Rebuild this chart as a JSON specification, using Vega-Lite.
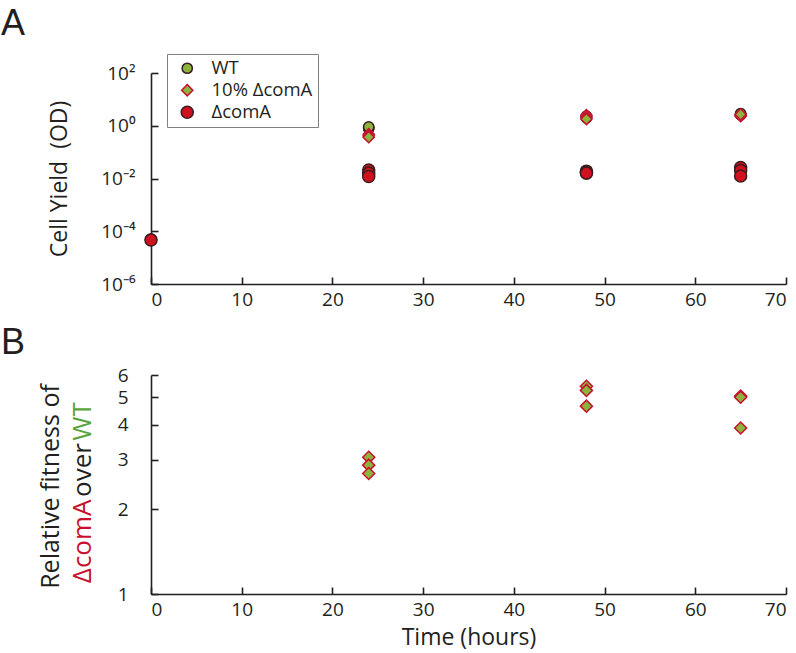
{
  "$schema": "https://vega.github.io/schema/vega-lite/v6.json",
  "padding": {"left": 0, "top": 6, "right": 2, "bottom": 0},
  "spacing": 16,
  "config": {
    "font": "Open Sans",
    "view": {"stroke": null},
    "axis": {
      "grid": false,
      "domainColor": "#231f20",
      "domainWidth": 1.6,
      "tickColor": "#231f20",
      "tickWidth": 1.6,
      "tickSize": -7,
      "labelColor": "#231f20",
      "labelFontSize": 19,
      "titleColor": "#231f20",
      "titleFontWeight": "normal"
    },
    "legend": {
      "title": null, "orient": "none", "legendX": 16, "legendY": -19,
      "strokeColor": "#808080", "fillColor": "white", "padding": 5,
      "labelFontSize": 18.5, "labelColor": "#231f20", "labelOffset": 15,
      "symbolOffset": 6, "symbolStrokeWidth": 1.5, "rowPadding": 3
    }
  },
  "resolve": {
    "scale": {"shape": "independent", "fill": "independent", "stroke": "independent", "size": "independent"},
    "legend": {"shape": "independent", "fill": "independent", "stroke": "independent", "size": "independent"}
  },
  "datasets": {
    "yield": [
      {"time": 0, "strain": "WT", "od": 0.00005},
      {"time": 0, "strain": "10% ΔcomA", "od": 0.000048},
      {"time": 0, "strain": "ΔcomA", "od": 0.000047},
      {"time": 24, "strain": "WT", "od": 0.85},
      {"time": 24, "strain": "WT", "od": 0.78},
      {"time": 24, "strain": "WT", "od": 0.9},
      {"time": 24, "strain": "10% ΔcomA", "od": 0.48},
      {"time": 24, "strain": "10% ΔcomA", "od": 0.42},
      {"time": 24, "strain": "10% ΔcomA", "od": 0.37},
      {"time": 24, "strain": "ΔcomA", "od": 0.021},
      {"time": 24, "strain": "ΔcomA", "od": 0.016},
      {"time": 24, "strain": "ΔcomA", "od": 0.012},
      {"time": 48, "strain": "WT", "od": 2.3},
      {"time": 48, "strain": "WT", "od": 2.1},
      {"time": 48, "strain": "WT", "od": 2.0},
      {"time": 48, "strain": "10% ΔcomA", "od": 2.5},
      {"time": 48, "strain": "10% ΔcomA", "od": 2.1},
      {"time": 48, "strain": "10% ΔcomA", "od": 1.8},
      {"time": 48, "strain": "ΔcomA", "od": 0.019},
      {"time": 48, "strain": "ΔcomA", "od": 0.017},
      {"time": 48, "strain": "ΔcomA", "od": 0.016},
      {"time": 65, "strain": "WT", "od": 2.8},
      {"time": 65, "strain": "WT", "od": 2.6},
      {"time": 65, "strain": "WT", "od": 2.9},
      {"time": 65, "strain": "10% ΔcomA", "od": 2.5},
      {"time": 65, "strain": "10% ΔcomA", "od": 2.3},
      {"time": 65, "strain": "10% ΔcomA", "od": 2.7},
      {"time": 65, "strain": "ΔcomA", "od": 0.026},
      {"time": 65, "strain": "ΔcomA", "od": 0.02},
      {"time": 65, "strain": "ΔcomA", "od": 0.0125}
    ],
    "fitness": [
      {"time": 24, "fitness": 3.06},
      {"time": 24, "fitness": 2.87},
      {"time": 24, "fitness": 2.68},
      {"time": 48, "fitness": 5.47},
      {"time": 48, "fitness": 5.29},
      {"time": 48, "fitness": 4.65},
      {"time": 65, "fitness": 5.05},
      {"time": 65, "fitness": 5.0},
      {"time": 65, "fitness": 3.89}
    ]
  },
  "vconcat": [
    {
      "width": 635,
      "height": 211,
      "layer": [
        {
          "data": {"name": "yield"},
          "mark": {"type": "point", "filled": true, "strokeWidth": 1.5, "opacity": 1},
          "encoding": {
            "x": {
              "field": "time", "type": "quantitative",
              "scale": {"domain": [0, 70], "nice": false},
              "axis": {"values": [0, 10, 20, 30, 40, 50, 60, 70], "title": null, "labelPadding": 13}
            },
            "y": {
              "field": "od", "type": "quantitative",
              "scale": {"type": "log", "domain": [0.000001, 100], "nice": false},
              "axis": {
                "values": [0.000001, 0.0001, 0.01, 1, 100],
                "labelExpr": "datum.value >= 50 ? '10²' : datum.value >= 0.5 ? '10⁰' : datum.value >= 0.005 ? '10⁻²' : datum.value >= 0.00005 ? '10⁻⁴' : '10⁻⁶'",
                "title": "Cell Yield\u00a0 (OD)",
                "titleFontSize": 23,
                "titlePadding": 29,
                "labelPadding": 23
              }
            },
            "shape": {
              "field": "strain", "type": "nominal",
              "scale": {"domain": ["WT", "10% ΔcomA", "ΔcomA"], "range": ["circle", "diamond", "circle"]}
            },
            "fill": {
              "field": "strain", "type": "nominal",
              "scale": {"domain": ["WT", "10% ΔcomA", "ΔcomA"], "range": ["#8cb43c", "#8cb43c", "#d0101e"]}
            },
            "stroke": {
              "field": "strain", "type": "nominal",
              "scale": {"domain": ["WT", "10% ΔcomA", "ΔcomA"], "range": ["#3b1d1d", "#c8102e", "#3b1d1d"]}
            },
            "size": {
              "field": "strain", "type": "nominal",
              "scale": {"domain": ["WT", "10% ΔcomA", "ΔcomA"], "range": [105, 145, 105]}
            }
          }
        },
        {
          "data": {"values": [{"t": "A"}]},
          "mark": {"type": "text", "align": "left", "baseline": "alphabetic", "font": "Liberation Sans", "fontSize": 36, "color": "#231f20"},
          "encoding": {
            "x": {"datum": -16.54, "type": "quantitative"},
            "y": {"datum": 2754, "type": "quantitative"},
            "text": {"field": "t"}
          }
        }
      ]
    },
    {
      "width": 635,
      "height": 219,
      "layer": [
        {
          "data": {"name": "fitness"},
          "mark": {"type": "point", "shape": "diamond", "filled": true, "fill": "#8cb43c", "stroke": "#c8102e", "strokeWidth": 1.5, "size": 145, "opacity": 1},
          "encoding": {
            "x": {
              "field": "time", "type": "quantitative",
              "scale": {"domain": [0, 70], "nice": false},
              "axis": {"values": [0, 10, 20, 30, 40, 50, 60, 70], "title": "Time (hours)", "titleFontSize": 23, "titlePadding": 7, "labelPadding": 13}
            },
            "y": {
              "field": "fitness", "type": "quantitative",
              "scale": {"type": "log", "domain": [1, 6], "nice": false},
              "axis": {"values": [1, 2, 3, 4, 5, 6], "format": "d", "title": null, "labelPadding": 30}
            }
          }
        },
        {
          "data": {"values": [{"t": "B"}]},
          "mark": {"type": "text", "align": "left", "baseline": "alphabetic", "font": "Liberation Sans", "fontSize": 36, "color": "#231f20"},
          "encoding": {
            "x": {"datum": -16.54, "type": "quantitative"},
            "y": {"datum": 7.12, "type": "quantitative"},
            "text": {"field": "t"}
          }
        },
        {
          "data": {"values": [{"t": "Relative fitness of"}]},
          "mark": {"type": "text", "align": "center", "baseline": "alphabetic", "angle": 270, "fontSize": 25, "color": "#231f20"},
          "encoding": {
            "x": {"datum": -10.14, "type": "quantitative"},
            "y": {"datum": 2.41, "type": "quantitative"},
            "text": {"field": "t"}
          }
        },
        {
          "data": {"values": [{"t": "ΔcomA"}]},
          "mark": {"type": "text", "align": "right", "baseline": "alphabetic", "angle": 270, "fontSize": 26, "color": "#c8102e"},
          "encoding": {
            "x": {"datum": -6.6, "type": "quantitative"},
            "y": {"datum": 2.167, "type": "quantitative"},
            "text": {"field": "t"}
          }
        },
        {
          "data": {"values": [{"t": "over"}]},
          "mark": {"type": "text", "align": "center", "baseline": "alphabetic", "angle": 270, "fontSize": 26, "color": "#231f20"},
          "encoding": {
            "x": {"datum": -6.6, "type": "quantitative"},
            "y": {"datum": 2.757, "type": "quantitative"},
            "text": {"field": "t"}
          }
        },
        {
          "data": {"values": [{"t": "WT"}]},
          "mark": {"type": "text", "align": "left", "baseline": "alphabetic", "angle": 270, "fontSize": 26, "color": "#58a43c"},
          "encoding": {
            "x": {"datum": -6.6, "type": "quantitative"},
            "y": {"datum": 3.511, "type": "quantitative"},
            "text": {"field": "t"}
          }
        }
      ]
    }
  ]
}
